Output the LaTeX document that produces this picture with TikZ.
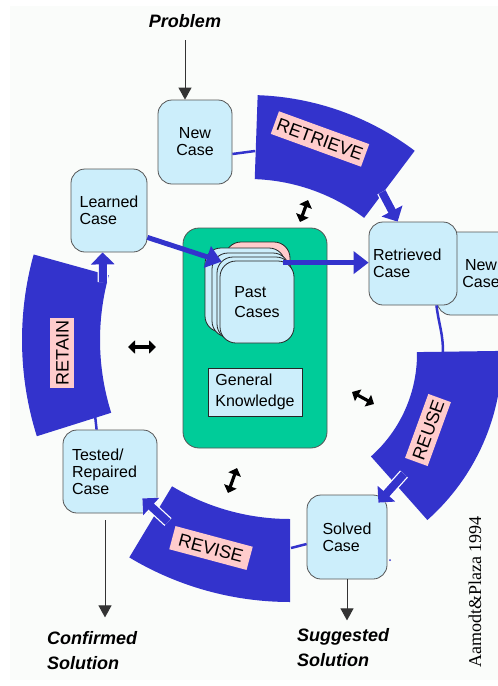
\documentclass[tikz,border=0pt]{standalone}
\usepackage{fontspec}
\setmainfont{Liberation Sans}
\newfontfamily\creditfont{Liberation Serif}
\usetikzlibrary{arrows.meta,calc}

\definecolor{bandblue}{HTML}{3333CC}
\definecolor{casefill}{HTML}{CCEEFB}
\definecolor{caseline}{HTML}{555555}
\definecolor{kbgreen}{HTML}{00CC99}
\definecolor{labelpink}{HTML}{FFCCCC}
\definecolor{paper}{HTML}{FAFCFA}

\begin{document}
\begin{tikzpicture}[x=1pt,y=-1pt,
  casebox/.style={draw=caseline, fill=casefill, rounded corners=14pt, line width=0.8pt,
    inner sep=0pt, font=\fontsize{16}{17}\selectfont, align=left},
  card/.style={draw=black!85, fill=casefill, rounded corners=16pt, line width=0.8pt, inner sep=0pt},
  bandlabel/.style={fill=labelpink, font=\fontsize{18}{18}\selectfont, inner xsep=3pt,
    inner ysep=0pt, minimum height=24pt, text height=13pt, text depth=0pt},
  outlabel/.style={font=\fontsize{18}{25}\selectfont\bfseries\itshape, align=left, inner sep=0pt},
  link/.style={draw=bandblue, line width=2.5pt},
  thickarrow/.style={draw=bandblue, line width=5pt, -{Triangle[length=15pt,width=22pt]}},
  bandarrow/.style={draw=bandblue, line width=8pt, -{Triangle[length=12pt,width=23pt]},
    preaction={draw=white, line width=10.5pt, -{Triangle[length=14pt,width=28pt]}}},
  flow/.style={draw=black!80, line width=0.9pt, -{Triangle[length=12pt,width=13pt]}},
  twoway/.style={draw=black, line width=3.2pt,
    {Triangle[length=7pt,width=13pt]}-{Triangle[length=7pt,width=13pt]}}
]
\useasboundingbox (0,0) rectangle (498,686);
\clip (0,0) rectangle (498,686);
\fill[paper] (10,6) rectangle (498,680);

% centres of the four block arcs
\coordinate (cRet) at (248,372);
\coordinate (cReu) at (280,354);
\coordinate (cRev) at (290,290);
\coordinate (cRtn) at (342,340);

% the four process bands
\fill[bandblue] ($(cRet)+(-88:277)$) arc[start angle=-88,end angle=-53,radius=277]
  -- ($(cRet)+(-53:193)$) arc[start angle=-53,end angle=-88,radius=193] -- cycle;
\fill[bandblue] ($(cReu)+(-0.8:222)$) arc[start angle=-0.8,end angle=48.4,radius=222]
  -- ($(cReu)+(48.4:137)$) arc[start angle=48.4,end angle=-0.8,radius=137] -- cycle;
\fill[bandblue] ($(cRev)+(90:312)$) arc[start angle=90,end angle=121,radius=312]
  -- ($(cRev)+(121:229)$) arc[start angle=121,end angle=90,radius=229] -- cycle;
\fill[bandblue] ($(cRtn)+(162.5:320)$) arc[start angle=162.5,end angle=195.5,radius=320]
  -- ($(cRtn)+(195.5:242)$) arc[start angle=195.5,end angle=162.5,radius=242] -- cycle;

% attachment points on the bands
\coordinate (retrieveIn) at (255,151);
\coordinate (retrieveOut) at (382,192);
\coordinate (reuseIn) at (443,353);
\coordinate (reuseOut) at (404,474);
\coordinate (reviseIn) at (291,548);
\coordinate (reviseOut) at (168,522);
\coordinate (retainIn) at (95,415);
\coordinate (retainOut) at (103,282);

% case base with general knowledge
\node[draw=caseline, fill=kbgreen, rounded corners=16pt, line width=0.8pt,
  minimum width=144pt, minimum height=220pt] (kb) at (255,338) {};
\node[draw=black!85, fill=casefill, line width=0.8pt, minimum width=94pt, minimum height=48pt,
  inner sep=0pt, align=left, font=\fontsize{16}{21}\selectfont] (general) at (255,392)
  {General\\Knowledge};

% stack of past cases
\node[card, fill=labelpink, minimum width=65pt, minimum height=83pt] (pastA) at (257.5,283.5) {};
\node[card, minimum width=80pt, minimum height=84pt] (pastB) at (245,290) {};
\node[card, minimum width=77pt, minimum height=84pt] (pastC) at (250.5,295) {};
\node[card, minimum width=75pt, minimum height=83pt] (pastD) at (254.5,298.5) {};
\node[card, minimum width=74pt, minimum height=82pt, align=left,
  font=\fontsize{16}{20}\selectfont] (pastE) at (257,302) {Past\\Cases};

% cases around the cycle
\node[casebox, minimum width=74pt, minimum height=84pt, align=center] (newcase) at (195,142) {New\\Case};
\node[casebox, minimum width=76pt, minimum height=83pt] (learned) at (109,210.5) {Learned\\Case};
\node[casebox, minimum width=88pt, minimum height=83pt, align=center] (newcaseB) at (481,273.5) {New\\Case};
\node[casebox, minimum width=88pt, minimum height=83pt, text width=80pt, inner xsep=4pt] (retrieved) at (413,263.5) {Retrieved\\Case};
\node[casebox, minimum width=94pt, minimum height=83pt, text width=76pt, inner xsep=9pt] (tested) at (110,471.5) {Tested/\\Repaired\\Case};
\node[casebox, minimum width=80pt, minimum height=84pt] (solved) at (347,537) {Solved\\Case};

% thin links between cases and bands
\draw[link] ($(newcase.east)+(0,12)$) -- (retrieveIn);
\draw[link] ($(retrieved.south east)+(-21,0)$) .. controls +(3,22) and +(0,-20) .. (reuseIn);
\draw[link] ($(solved.west)+(0,7)$) -- (reviseIn);
\draw[link] ($(tested.north west)+(34,0)$) -- (retainIn);

% flows into and out of the case base
\draw[thickarrow] ($(learned.south east)+(0,-15)$) -- ($(pastE.north west)+(2,1)$);
\draw[thickarrow] ($(pastE.north east)+(-11,2)$) coordinate (pr) -- (pr -| retrieved.west);

% band outputs
\draw[bandarrow] (retrieveOut) -- ($(retrieved.north west)+(29,0)$);
\draw[bandarrow] (reuseOut) -- ($(solved.north east)+(-9,8)$);
\draw[bandarrow] (reviseOut) -- ($(tested.south east)+(-15,-15)$);
\draw[bandarrow] (retainOut) -- ($(learned.south west)+(32,0)$);

% band names
\node[bandlabel, rotate=-20] (lblRetrieve) at (320,139) {RETRIEVE};
\node[bandlabel, rotate=70] (lblReuse) at (428,430) {REUSE};
\node[bandlabel, rotate=-15, inner xsep=7pt] (lblRevise) at (211,548) {REVISE};
\node[bandlabel, rotate=90] (lblRetain) at (62,353) {RETAIN};

% problem in, solutions out
\node[outlabel, anchor=base] (problem) at (185,27) {Problem};
\draw[flow, shorten <=13pt] (problem.base) -- (problem.base |- newcase.north);
\node[outlabel, anchor=west] (confirmed) at (47,651) {Confirmed\\Solution};
\node[outlabel, anchor=west] (suggested) at (297,648) {Suggested\\Solution};
\draw[flow] ($(tested.south)+(-5,7)$) -- ++(0,97);
\draw[flow] (solved.south) -- ++(0,41);

% two-way exchanges with the case base
\coordinate (tw1a) at (308,200); \coordinate (tw1b) at (300,222);
\coordinate (tw2a) at (128,347); \coordinate (tw2b) at (156,347);
\coordinate (tw3a) at (352,392); \coordinate (tw3b) at (374,404);
\coordinate (tw4a) at (237,468); \coordinate (tw4b) at (228,493);
\draw[twoway] (tw1a) -- (tw1b);
\draw[twoway] (tw2a) -- (tw2b);
\draw[twoway] (tw3a) -- (tw3b);
\draw[twoway] (tw4a) -- (tw4b);

\fill[bandblue] (390,560) circle[radius=1];

\node[rotate=90, font=\creditfont\fontsize{18}{18}\selectfont, inner sep=0pt] (credit) at (475,592) {Aamodt\&Plaza 1994};
\end{tikzpicture}
\end{document}
